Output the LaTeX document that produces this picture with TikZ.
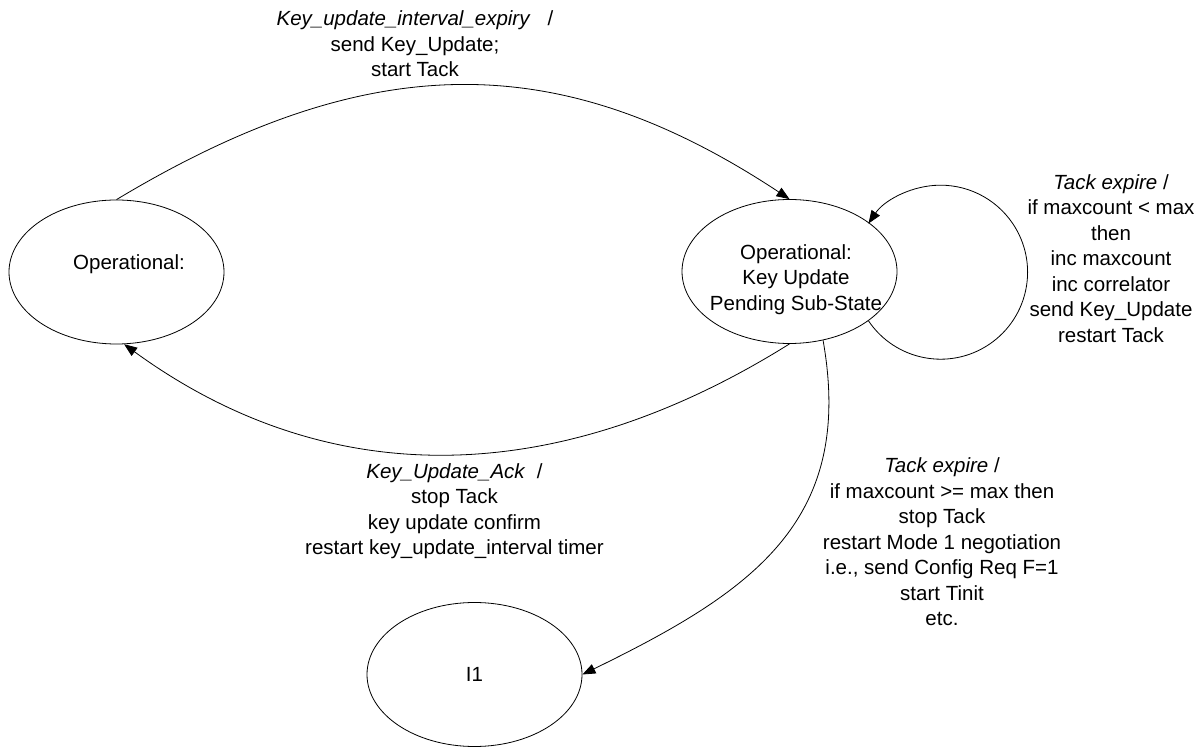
\documentclass[tikz,border=0pt]{standalone}
\usepackage{fontspec}
\setmainfont{Liberation Sans}
\usetikzlibrary{shapes.geometric,arrows.meta}
\begin{document}
\begin{tikzpicture}[x=1pt,y=1pt,
  every node/.style={font=\fontsize{20.5}{25.5}\selectfont},
  state/.style={draw, ellipse, minimum width=215pt, minimum height=144pt, inner sep=0pt, line width=0.8pt},
  trans/.style={line width=0.8pt, -{Triangle[length=13pt,width=10pt]}},
  lbl/.style={align=center, anchor=north, inner sep=0pt}]
\useasboundingbox (0,0) rectangle (1201,747);

% states
\node[state, label={[xshift=12.5pt,yshift=8pt]center:{Operational:}}] (op) at (116.5,475) {};
\node[state, label={[align=center,xshift=6.5pt,yshift=-8pt]center:{Operational:\\Key Update\\Pending Sub-State}}] (kup) at (789.5,475.5) {};
\node[state] (i1) at (474.5,72.5) {I1};

% transitions
\draw[trans] (op.north) .. controls +(253,152) and +(-230,152) .. (kup.north);
\draw[trans] (kup.south) .. controls +(-235,-147) and +(202,-147) .. (op.-84);
\draw[trans] (kup.-64) .. controls +(32,-181) and +(170,83) .. (i1.east);
\draw[trans] (kup.-32) arc[start angle=214, end angle=506, x radius=87, y radius=87];

% labels
\node[lbl] (t1) at (415,736.5) {\textit{Key\_update\_interval\_expiry}\ \ \ /\\send Key\_Update;\\start Tack};
\node[lbl] (t2) at (1111,572.7) {\textit{Tack expire} /\\if maxcount < max\\then\\inc maxcount\\inc correlator\\send Key\_Update\\restart Tack};
\node[lbl] (t3) at (454.5,283.6) {\textit{Key\_Update\_Ack}\ \ /\\stop Tack\\key update confirm\\restart key\_update\_interval timer};
\node[lbl] (t4) at (942,289.3) {\textit{Tack expire} /\\if maxcount >= max then\\stop Tack\\restart Mode 1 negotiation\\i.e., send Config Req F=1\\start Tinit\\etc.};
\end{tikzpicture}
\end{document}
